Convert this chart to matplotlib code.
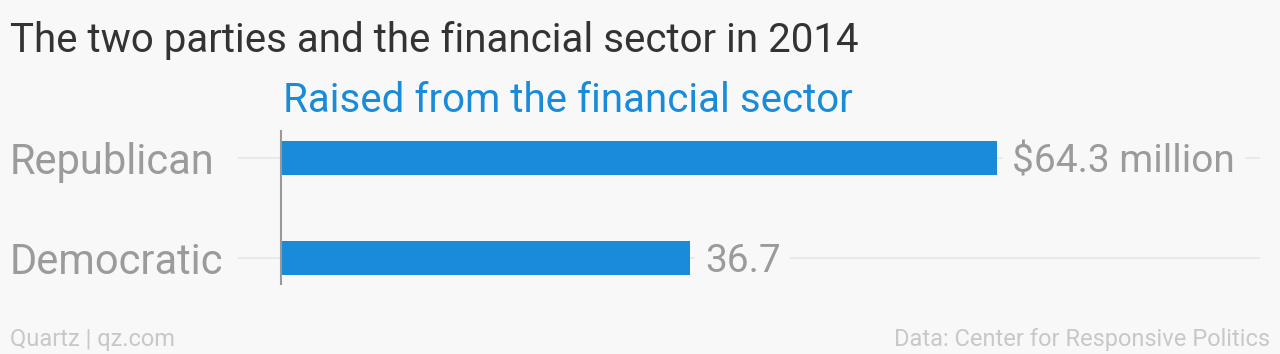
import matplotlib
matplotlib.use("Agg")
import matplotlib.pyplot as plt
from matplotlib.transforms import blended_transform_factory

categories = ["Republican", "Democratic"]
values = [64.3, 36.7]
value_labels = ["$64.3 million", "36.7"]
title = "The two parties and the financial sector in 2014"
subtitle = "Raised from the financial sector"
footer_left = "Quartz | qz.com"
footer_right = "Data: Center for Responsive Politics"

W, H = 1280, 354
BG = "#f8f8f8"
BLUE = "#1a8bd8"
GRAY = "#9b9b9b"
FONT = "Roboto"

fig = plt.figure(figsize=(W / 100, H / 100), dpi=100, facecolor=BG)

# axes spanning x 238..1260 px, y 130..285 px (from top)
ax_l, ax_r, ax_t, ax_b = 238, 1260, 130, 285
ax = fig.add_axes([ax_l / W, (H - ax_b) / H, (ax_r - ax_l) / W, (ax_b - ax_t) / H])
ax.set_facecolor(BG)
px_per_unit = (997 - 281) / 64.3
xmin = -(281 - ax_l) / px_per_unit
xmax = (ax_r - 281) / px_per_unit
ax.set_xlim(xmin, xmax)
# category centers at 158 and 258 px, 100 px per unit
ax.set_ylim((ax_b - 158) / 100, -(158 - ax_t) / 100)

ypos = list(range(len(categories)))
for y in ypos:
    ax.axhline(y, color="#e6e6e6", lw=1.2, zorder=0)
ax.barh(ypos, values, height=0.345, color=BLUE, zorder=2)
ax.axvline(0, color="#999999", lw=1.5, zorder=3)

for y, v, lab in zip(ypos, values, value_labels):
    ax.annotate(lab, (v, y), xytext=(11, 0), textcoords="offset points",
                ha="left", va="center_baseline", fontsize=28, color=GRAY,
                fontfamily=FONT, zorder=4,
                bbox=dict(boxstyle="square,pad=0.25", fc=BG, ec="none"))

trans = blended_transform_factory(fig.transFigure, ax.transData)
for y, c in zip(ypos, categories):
    fig.text(10 / W, y, c, transform=trans, ha="left", va="center_baseline",
             fontsize=30, color=GRAY, fontfamily=FONT)

for s in ax.spines.values():
    s.set_visible(False)
ax.set_xticks([])
ax.set_yticks([])

fig.text(10 / W, 1 - 52 / H, title, ha="left", va="baseline", fontsize=29,
         color="#333333", fontfamily=FONT)
fig.text(283 / W, 1 - 112 / H, subtitle, ha="left", va="baseline", fontsize=29,
         color=BLUE, fontfamily=FONT)
fig.text(10 / W, 1 - 346 / H, footer_left, ha="left", va="baseline", fontsize=17,
         color="#c8c8c8", fontfamily=FONT)
fig.text(1270 / W, 1 - 346 / H, footer_right, ha="right", va="baseline", fontsize=17,
         color="#c8c8c8", fontfamily=FONT)

fig.savefig("out.png", dpi=100, facecolor=BG)
